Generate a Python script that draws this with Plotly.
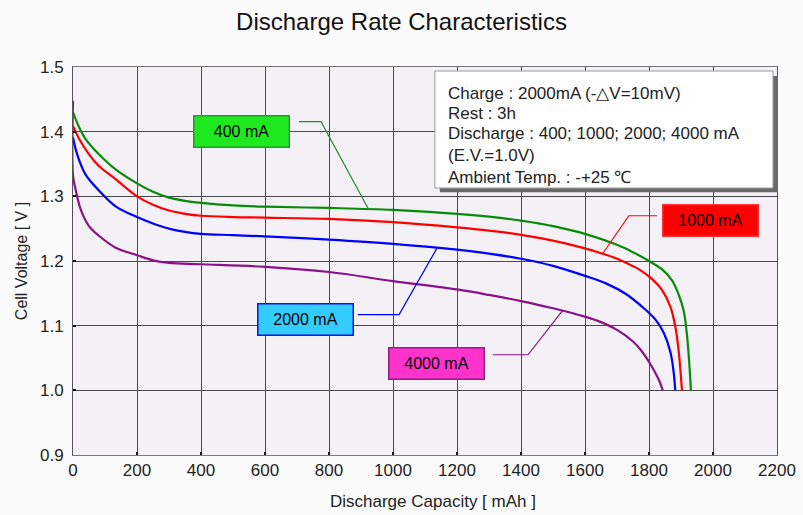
import plotly.graph_objects as go

# ---------------- data ----------------
x_400 = [0, 19, 39, 81, 132, 200, 250, 300, 350, 400, 500, 600, 800, 1000, 1200, 1300, 1400,
         1500, 1600, 1700, 1750, 1800, 1841, 1872, 1892, 1908, 1918, 1925, 1931]
y_400 = [1.43, 1.407, 1.389, 1.365, 1.342, 1.320, 1.307, 1.298, 1.293, 1.290, 1.286, 1.284,
         1.282, 1.279, 1.273, 1.2685, 1.2625, 1.254, 1.242, 1.225, 1.2135, 1.200, 1.187, 1.170,
         1.149, 1.124, 1.089, 1.048, 1.0]

x_1000 = [0, 19, 50, 81, 132, 200, 250, 300, 350, 400, 500, 600, 800, 1000, 1200, 1300, 1400,
          1500, 1600, 1650, 1700, 1750, 1769, 1810, 1841, 1867, 1882, 1892, 1903]
y_1000 = [1.409, 1.389, 1.365, 1.347, 1.327, 1.300, 1.287, 1.278, 1.273, 1.270, 1.268,
          1.267, 1.265, 1.260, 1.252, 1.247, 1.2405, 1.2315, 1.2195, 1.212, 1.2035, 1.192,
          1.187, 1.172, 1.155, 1.129, 1.099, 1.064, 1.0]

x_2000 = [0, 13, 39, 81, 132, 200, 250, 300, 350, 400, 500, 600, 800, 1000, 1200, 1300, 1400,
          1500, 1600, 1667, 1728, 1779, 1821, 1846, 1867, 1877, 1882]
y_2000 = [1.391, 1.365, 1.334, 1.309, 1.285, 1.268, 1.258, 1.250, 1.245, 1.242, 1.240,
          1.238, 1.233, 1.2265, 1.2175, 1.2115, 1.2035, 1.1925, 1.177, 1.165, 1.149, 1.129,
          1.109, 1.089, 1.059, 1.028, 1.0]

x_4000 = [0, 0, 8, 24, 50, 81, 132, 200, 250, 300, 400, 600, 800, 1000, 1200, 1300, 1400,
          1500, 1600, 1650, 1700, 1750, 1775, 1805, 1831, 1843]
y_4000 = [1.448, 1.332, 1.311, 1.280, 1.254, 1.239, 1.221, 1.209, 1.201, 1.197, 1.195,
          1.191, 1.183, 1.169, 1.156, 1.1475, 1.138, 1.127, 1.114, 1.1055, 1.0935, 1.0755,
          1.062, 1.040, 1.016, 1.0]

series_names = ["400 mA", "1000 mA", "2000 mA", "4000 mA"]
series_x = [x_400, x_1000, x_2000, x_4000]
series_y = [y_400, y_1000, y_2000, y_4000]

# label boxes (centre positions) and leader lines
label_x = [528, 1992, 725, 1137]
label_y = [1.401, 1.263, 1.109, 1.041]
leader_x = [[706, 775, 922], [1825, 1737, 1656], [890, 1019, 1137], [1312, 1422, 1531]]
leader_y = [[1.4155, 1.4155, 1.2816], [1.270, 1.270, 1.212], [1.117, 1.117, 1.2195],
            [1.055, 1.055, 1.124]]

info_lines = ["Charge : 2000mA (-△V=10mV)", "Rest : 3h",
              "Discharge : 400; 1000; 2000; 4000 mA", "(E.V.=1.0V)",
              "Ambient Temp. : -+25 ℃"]

x_ticks = [0, 200, 400, 600, 800, 1000, 1200, 1400, 1600, 1800, 2000, 2200]
y_ticks = [0.9, 1.0, 1.1, 1.2, 1.3, 1.4, 1.5]

# ---------------- styles ----------------
line_colors = ["#0a8a0a", "#ff0000", "#0000ff", "#8b118b"]
box_fill = ["#1ee81e", "#ff0000", "#33ccff", "#ff33cc"]
box_border = ["#2a9a2a", "#ff3030", "#1010ff", "#8b228b"]
leader_colors = ["#2a8a2a", "#ff0000", "#0000ff", "#8b118b"]

FONT = "Liberation Sans, Arial, sans-serif"

fig = go.Figure()

for i in range(4):
    fig.add_trace(go.Scatter(x=series_x[i], y=series_y[i], mode="lines",
                             line=dict(color=line_colors[i], width=2.2, shape="spline",
                                       smoothing=1.0),
                             name=series_names[i], showlegend=False, hoverinfo="skip"))
for i in range(4):
    fig.add_trace(go.Scatter(x=leader_x[i], y=leader_y[i], mode="lines",
                             line=dict(color=leader_colors[i], width=1.2),
                             showlegend=False, hoverinfo="skip"))

annotations = []
for i in range(4):
    annotations.append(dict(x=label_x[i], y=label_y[i], xref="x", yref="y",
                            text=series_names[i], showarrow=False,
                            font=dict(family=FONT, size=16, color="#000"),
                            bgcolor=box_fill[i], bordercolor=box_border[i], borderwidth=1.5,
                            borderpad=0, width=94, height=30))

# info box text lines
info_y_px = [93, 113, 133, 155, 177]
for t, py in zip(info_lines, info_y_px):
    annotations.append(dict(x=(446 - 73) / 704, y=(455 - py) / 388, xref="paper", yref="paper",
                            xanchor="left", yanchor="middle", text=t, showarrow=False,
                            font=dict(family=FONT, size=17, color="#222")))

# x axis title (slightly right of centre in the original)
annotations.append(dict(x=(433 - 73) / 704, y=(455 - 501) / 388, xref="paper", yref="paper",
                        xanchor="center", yanchor="middle", showarrow=False,
                        text="Discharge Capacity [ mAh ]",
                        font=dict(family=FONT, size=17, color="#222")))

shapes = [
    dict(type="rect", xref="paper", yref="paper", x0=0.521, x1=1.0014, y0=0.677, y1=0.977,
         fillcolor="#6a6a6a", line=dict(width=0), layer="above"),
    dict(type="rect", xref="paper", yref="paper", x0=0.514, x1=0.9943, y0=0.688, y1=0.9897,
         fillcolor="#fefefe", line=dict(color="#9a9a9a", width=1), layer="above"),
]

fig.update_layout(
    width=803, height=515,
    margin=dict(l=73, r=26, t=67, b=60),
    paper_bgcolor="#fbfbfb", plot_bgcolor="#f3f1f6",
    font=dict(family=FONT, color="#222"),
    title=dict(text="Discharge Rate Characteristics", x=0.5, xanchor="center",
               y=1 - 22 / 515, yanchor="middle", yref="container",
               font=dict(family=FONT, size=24, color="#111")),
    annotations=annotations, shapes=shapes,
)
fig.update_xaxes(range=[0, 2200], tickvals=x_ticks, ticktext=[str(v) for v in x_ticks],
                 showgrid=True, gridcolor="#4a4a4a", gridwidth=1, zeroline=False,
                 showline=True, linecolor="#777", linewidth=1, mirror=True,
                 ticks="inside", ticklen=3, tickcolor="#000", tickwidth=2,
                 automargin=False,
                 tickfont=dict(family=FONT, size=17, color="#222"))
fig.update_yaxes(range=[0.9, 1.5], tickvals=y_ticks, ticktext=[f"{v:.1f}" for v in y_ticks],
                 showgrid=True, gridcolor="#4a4a4a", gridwidth=1, zeroline=False,
                 showline=True, linecolor="#555", linewidth=1, mirror=True,
                 ticks="inside", ticklen=3, tickcolor="#000", tickwidth=2,
                 ticklabelstandoff=5, automargin=False,
                 tickfont=dict(family=FONT, size=17, color="#222"),
                 title=dict(text="Cell Voltage [ V ]", standoff=8,
                            font=dict(family=FONT, size=16, color="#222")))

fig.write_html("out.html", post_script="document.body.style.margin='0';",
               config={"displayModeBar": False})
